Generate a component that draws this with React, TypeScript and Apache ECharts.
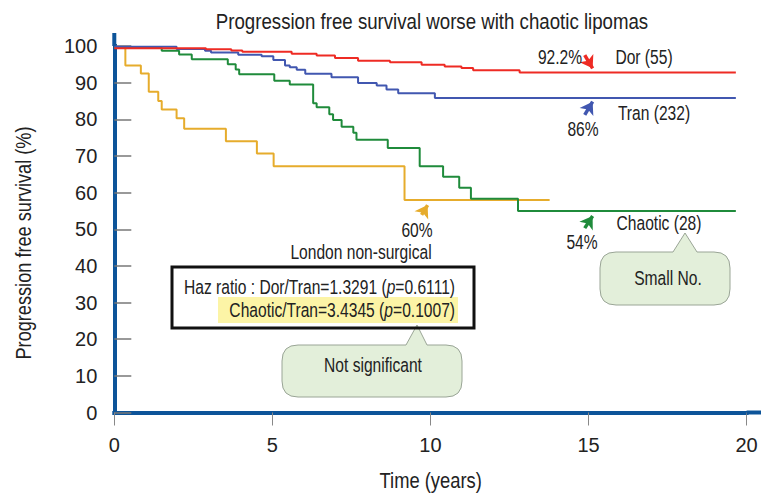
import React, { useEffect, useRef } from "react";
import * as echarts from "echarts";

// ---- data ----
const xTicks = [0, 5, 10, 15, 20];
const yTicks = [0, 10, 20, 30, 40, 50, 60, 70, 80, 90, 100];

const dorT = [0, 2.9, 3.7, 4.05, 5.61, 6.4, 6.98, 7.71, 8.72, 9.72, 10.45, 10.98, 11.35, 12.82, 19.66];
const dorS = [99.4, 99.1, 98.8, 98.4, 97.9, 97.4, 96.7, 96.0, 95.6, 94.9, 94.4, 94.0, 93.4, 92.8, 92.8];

const tranT = [0, 1.97, 2.87, 3.06, 3.92, 4.66, 5.03, 5.4, 5.55, 5.77, 6.04, 6.87, 7.71, 8.3, 8.61, 8.98, 10.14, 19.66];
const tranS = [99.8, 99.2, 98.7, 98.2, 97.6, 97.2, 96.2, 94.7, 94.2, 93.5, 92.4, 91.5, 89.9, 89.2, 88.1, 87.1, 85.8, 85.8];

const chaoticT = [0, 1.5, 2.05, 2.45, 3.59, 3.84, 3.95, 5.06, 5.55, 6.29, 6.4, 6.8, 6.92, 7.19, 7.56, 7.66, 8.65, 9.66, 10.4, 10.91, 11.28, 12.77, 19.66];
const chaoticS = [99.5, 98.7, 97.7, 96.4, 95.0, 93.6, 92.3, 90.5, 89.5, 84.4, 83.3, 81.4, 79.8, 78.0, 76.3, 74.4, 72.2, 67.2, 64.3, 61.3, 58.3, 55.0, 55.0];

const londonT = [0, 0.35, 0.84, 1.09, 1.39, 1.5, 1.97, 2.21, 3.53, 4.51, 5.04, 9.18, 13.77];
const londonS = [99.5, 94.7, 92.5, 87.5, 85.0, 82.7, 80.3, 77.4, 74.0, 70.7, 67.2, 58.0, 58.0];

// arrows: [tailX, tailY, headX, headY] in data units
const dorArrow = [14.88, 97.5, 15.13, 93.9];
const tranArrow = [14.88, 81.2, 15.13, 84.8];
const londonArrow = [9.72, 53.9, 9.91, 56.6];
const chaoticArrow = [14.88, 50.3, 15.13, 53.6];

const FONT = "'Liberation Sans', Arimo, Arial, sans-serif";
const AXIS_BLUE = "#0d5499";
const TXT = "#222";

function callout(x0: number, y0: number, x1: number, y1: number, r: number, bl: number, tx: number, ty: number, br: number) {
  return `M ${x0 + r} ${y0} L ${bl} ${y0} L ${tx} ${ty} L ${br} ${y0} L ${x1 - r} ${y0} Q ${x1} ${y0} ${x1} ${y0 + r} L ${x1} ${y1 - r} Q ${x1} ${y1} ${x1 - r} ${y1} L ${x0 + r} ${y1} Q ${x0} ${y1} ${x0} ${y1 - r} L ${x0} ${y0 + r} Q ${x0} ${y0} ${x0 + r} ${y0} Z`;
}

echarts.graphic.registerShape("calloutSmall", echarts.graphic.extendPath(callout(600, 252, 730, 305, 16, 673, 685, 233, 697), {}));
echarts.graphic.registerShape("calloutNot", echarts.graphic.extendPath(callout(282, 345, 462, 397, 16, 406, 417, 325, 427), {}));

function km(t: number[], s: number[]) {
  return t.map((v, i) => [v, s[i]]);
}

function arrowLine(a: number[], color: string) {
  return {
    silent: true,
    symbol: ["none", "arrow"],
    symbolSize: 12,
    label: { show: false },
    lineStyle: { color, width: 3.5, type: "solid", opacity: 1 },
    itemStyle: { color },
    emphasis: { disabled: true },
    data: [[{ coord: [a[0], a[1]] }, { coord: [a[2], a[3]] }]],
  };
}

function series(name: string, t: number[], s: number[], color: string, arrow: number[], z: number) {
  return {
    name,
    type: "line",
    step: "end",
    data: km(t, s),
    showSymbol: false,
    symbol: "none",
    z,
    lineStyle: { color, width: 2 },
    itemStyle: { color },
    markLine: arrowLine(arrow, color),
  };
}

function txt(text: string, x: number, y: number, size: number, sx = 0.8, align = "center", extra: any = {}, rot = 0) {
  return {
    type: "text",
    x,
    y,
    z: 10,
    scaleX: sx,
    rotation: rot,
    style: {
      text,
      fill: TXT,
      fontSize: size,
      fontFamily: FONT,
      align,
      textAlign: align,
      verticalAlign: "middle",
      textVerticalAlign: "middle",
      ...extra,
    },
  };
}

const italicRich = { i: { fontStyle: "italic", fontSize: 19.5, fontFamily: FONT, fill: TXT } };

export default function App() {
  const ref = useRef<HTMLDivElement>(null);
  useEffect(() => {
    if (!ref.current) return;
    const chart = echarts.init(ref.current, undefined, { renderer: "svg" });
    const option: any = {
      animation: false,
      backgroundColor: "#fff",
      grid: { left: 114.3, right: 14.4, top: 46, bottom: 88.5, containLabel: false },
      xAxis: {
        type: "value",
        min: xTicks[0],
        max: xTicks[xTicks.length - 1],
        interval: 5,
        axisLine: { show: true, lineStyle: { color: AXIS_BLUE, width: 4, cap: "square" } },
        axisTick: { show: true, length: 13, lineStyle: { color: "#888", width: 1 } },
        axisLabel: { fontFamily: FONT, fontSize: 20, margin: 22, color: TXT },
        splitLine: { show: false },
      },
      yAxis: {
        type: "value",
        min: yTicks[0],
        max: yTicks[yTicks.length - 1],
        interval: 10,
        axisLine: { show: true, lineStyle: { color: AXIS_BLUE, width: 4, cap: "square" } },
        axisTick: { show: true, inside: true, length: 17, lineStyle: { color: "#777", width: 1.5 } },
        axisLabel: { fontFamily: FONT, fontSize: 20, margin: 17, color: TXT },
        splitLine: { show: false },
      },
      series: [
        series("London non-surgical", londonT, londonS, "#e6ac2c", londonArrow, 2),
        series("Chaotic (28)", chaoticT, chaoticS, "#1f8b3b", chaoticArrow, 3),
        series("Tran (232)", tranT, tranS, "#4157b0", tranArrow, 4),
        series("Dor (55)", dorT, dorS, "#ee2b24", dorArrow, 5),
      ],
      graphic: [
        { type: "line", z: 1, shape: { x1: 114.3, y1: 46, x2: 114.3, y2: 33 }, style: { stroke: AXIS_BLUE, lineWidth: 4 } },
        { type: "line", z: 1, shape: { x1: 746.6, y1: 412.5, x2: 761, y2: 412.5 }, style: { stroke: AXIS_BLUE, lineWidth: 4 } },
        // title and axis names
        txt("Progression free survival worse with chaotic lipomas", 432, 21, 22.5, 0.83),
        txt("Time (years)", 430.7, 480, 22, 0.834),
        txt("Progression free survival (%)", 23.3, 243, 22, 0.826, "center", {}, Math.PI / 2),
        // curve annotations
        txt("92.2%", 560, 57, 19.5),
        txt("Dor (55)", 644, 57, 19.5),
        txt("Tran (232)", 654, 113, 19.5),
        txt("86%", 583, 129, 19.5),
        txt("60%", 417, 230, 19.5),
        txt("London non-surgical", 361, 252, 19.5),
        txt("54%", 582, 242, 19.5),
        txt("Chaotic (28)", 659, 223, 19.5),
        // hazard ratio box
        { type: "rect", z: 8, shape: { x: 218, y: 297, width: 240, height: 26 }, style: { fill: "#fcf4a6" } },
        { type: "rect", z: 9, shape: { x: 172, y: 267, width: 302, height: 61 }, style: { fill: "none", stroke: "#111", lineWidth: 3 } },
        txt("Haz ratio : Dor/Tran=1.3291 ({i|p}=0.6111)", 455, 287, 19.5, 0.8, "right", { rich: italicRich }),
        txt("Chaotic/Tran=3.4345 ({i|p}=0.1007)", 455, 310, 19.5, 0.8, "right", { rich: italicRich }),
        // callouts
        { type: "calloutSmall", x: 0, y: 0, z: 8, style: { fill: "#e3efda", stroke: "#9aa596", lineWidth: 1 } },
        { type: "calloutNot", x: 0, y: 0, z: 8, style: { fill: "#e3efda", stroke: "#9aa596", lineWidth: 1 } },
        txt("Small No.", 668, 278, 19.5),
        txt("Not significant", 373, 365, 19.5),
      ],
    };
    chart.setOption(option);
    return () => chart.dispose();
  }, []);
  return (
    <div
      ref={ref}
      style={{ position: "fixed", left: 0, top: 0, width: 761, height: 501, background: "#fff" }}
    />
  );
}
